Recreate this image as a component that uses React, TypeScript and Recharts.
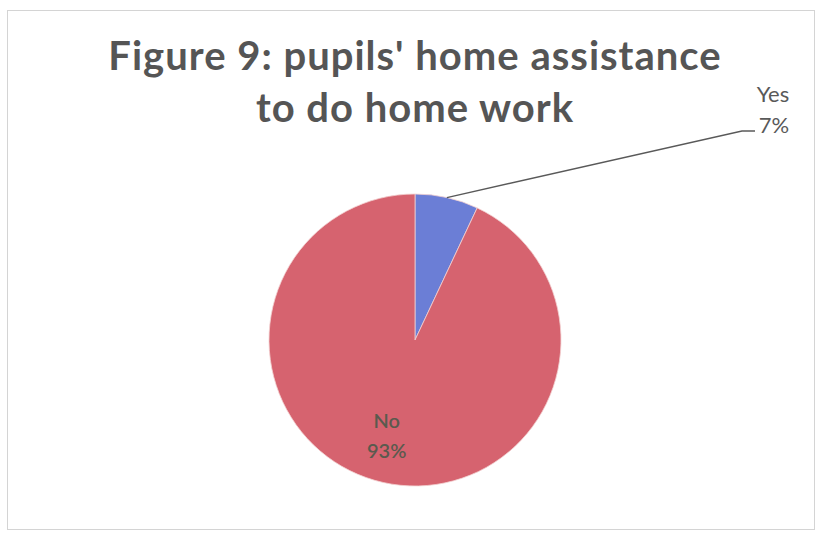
import { PieChart, Pie, Cell } from 'recharts';

const answers = ['Yes', 'No'];
const shares = [7, 93];
const sliceColors = ['#6B7ED6', '#D6636F'];
const titleLines = ["Figure 9: pupils' home assistance", 'to do home work'];

const data = answers.map((name, i) => ({ name, value: shares[i] }));

const RAD = Math.PI / 180;
const FONT = 'Lato, "Open Sans", sans-serif';

function renderLabel(props: any) {
  const { cx, cy, midAngle, outerRadius, name, percent } = props;
  const pct = `${Math.round(percent * 100)}%`;
  if (name === 'Yes') {
    const sx = cx + outerRadius * Math.cos(-midAngle * RAD);
    const sy = cy + outerRadius * Math.sin(-midAngle * RAD);
    const ex = cx + 327;
    const ey = cy - 209;
    return (
      <g>
        <polyline points={`${sx},${sy} ${ex},${ey} ${ex + 13},${ey}`} fill="none" stroke="#595959" strokeWidth={1.3} />
        <text x={ex + 31} y={ey - 29} textAnchor="middle" fill="#595959" fontSize={22} fontFamily={FONT}>{name}</text>
        <text x={ex + 32} y={ey + 2} textAnchor="middle" fill="#595959" fontSize={22} fontFamily={FONT}>{pct}</text>
      </g>
    );
  }
  const r = outerRadius * 0.7;
  const x = cx + r * Math.cos(-midAngle * RAD);
  const y = cy + r * Math.sin(-midAngle * RAD);
  return (
    <g>
      <text x={x - 6} y={y - 12} textAnchor="middle" fill="#5a5a4e" fontSize={20} fontWeight={600} fontFamily={FONT}>{name}</text>
      <text x={x - 6} y={y + 18} textAnchor="middle" fill="#5a5a4e" fontSize={20} fontWeight={600} fontFamily={FONT}>{pct}</text>
    </g>
  );
}

export default function App() {
  return (
    <div style={{ position: 'absolute', left: 0, top: 0, width: 818, height: 535, background: '#fff' }}>
      <div style={{ position: 'absolute', left: 7, top: 10, width: 808, height: 520, border: '1px solid #d4d4d4', boxSizing: 'border-box' }} />
      <svg width={818} height={140} style={{ position: 'absolute', left: 0, top: 0 }}>
        <text x={415} y={70} textAnchor="middle" fill="#555555" fontSize={40} letterSpacing={1} fontWeight={700} fontFamily={FONT}>{titleLines[0]}</text>
        <text x={415} y={122} textAnchor="middle" fill="#555555" fontSize={40} letterSpacing={1} fontWeight={700} fontFamily={FONT}>{titleLines[1]}</text>
      </svg>
      <div style={{ position: 'absolute', left: 0, top: 0 }}>
        <PieChart width={818} height={535} margin={{ top: 0, right: 0, bottom: 0, left: 0 }}>
          <Pie
            data={data}
            dataKey="value"
            nameKey="name"
            cx={415}
            cy={340}
            outerRadius={146}
            startAngle={90}
            endAngle={-270}
            label={renderLabel}
            labelLine={false}
            stroke="#f3d0d0"
            strokeWidth={0.8}
            isAnimationActive={false}
          >
            {data.map((d, i) => (
              <Cell key={d.name} fill={sliceColors[i]} />
            ))}
          </Pie>
        </PieChart>
      </div>
    </div>
  );
}
